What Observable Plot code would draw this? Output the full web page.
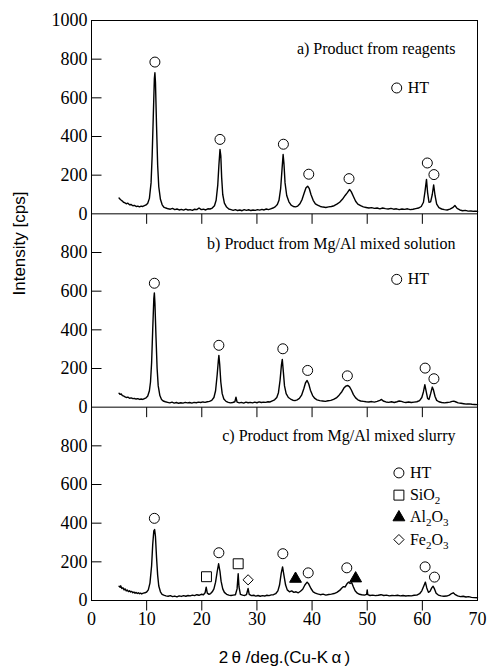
<!DOCTYPE html>
<html><head><meta charset="utf-8">
<script src="https://cdn.jsdelivr.net/npm/d3@7"></script>
<script src="https://cdn.jsdelivr.net/npm/@observablehq/plot@0.6"></script>
<style>html,body{margin:0;padding:0;background:#fff;} #chart{width:488px;height:669px;}</style>
</head><body><div id="chart"></div>
<script>
// ---------- data ----------
const panelTitles = [
  "a) Product from reagents",
  "b) Product from Mg/Al mixed solution",
  "c) Product from Mg/Al mixed slurry"
];
const xTicks = [0, 10, 20, 30, 40, 50, 60, 70];
const yTicks = [0, 200, 400, 600, 800, 1000];

// [2θ (deg), intensity (cps)]
const patternA = [[5.0,82],[5.2,75],[5.4,70],[5.6,66],[5.8,60],[6.0,58],[6.3,52],[6.6,55],[6.9,47],[7.2,48],[7.5,42],[7.8,44],[8.1,38],[8.4,40],[8.7,36],[9.0,40],[9.3,38],[9.6,42],[9.9,46],[10.2,55],[10.5,80],[10.8,160],[11.0,300],[11.2,500],[11.4,700],[11.5,730],[11.6,680],[11.8,450],[12.0,250],[12.2,140],[12.5,75],[12.8,48],[13.1,35],[13.5,30],[13.9,26],[14.3,24],[14.7,28],[15.1,22],[15.5,25],[15.9,20],[16.3,23],[16.7,19],[17.1,24],[17.5,20],[17.9,22],[18.3,18],[18.7,24],[19.1,22],[19.5,30],[19.9,22],[20.3,24],[20.7,20],[21.1,26],[21.5,25],[21.9,30],[22.3,42],[22.6,70],[22.9,150],[23.1,250],[23.3,333],[23.45,300],[23.6,190],[23.8,100],[24.1,55],[24.5,35],[24.9,25],[25.3,22],[25.7,18],[26.1,22],[26.5,17],[26.9,20],[27.3,16],[27.7,22],[28.1,18],[28.5,21],[28.9,17],[29.3,20],[29.7,18],[30.1,22],[30.5,19],[30.9,23],[31.3,20],[31.7,25],[32.1,22],[32.5,26],[32.9,30],[33.3,36],[33.7,48],[34.0,70],[34.3,130],[34.55,230],[34.75,307],[34.9,260],[35.1,160],[35.4,95],[35.8,62],[36.2,45],[36.6,38],[37.0,36],[37.4,40],[37.8,52],[38.2,75],[38.6,110],[38.9,135],[39.2,143],[39.5,130],[39.8,100],[40.2,70],[40.6,52],[41.0,45],[41.5,38],[42.0,35],[42.5,33],[43.0,36],[43.5,38],[44.0,42],[44.5,50],[45.0,60],[45.5,75],[46.0,95],[46.4,110],[46.8,126],[47.1,115],[47.5,90],[47.9,65],[48.3,50],[48.8,42],[49.3,36],[49.8,33],[50.3,30],[50.8,32],[51.3,28],[51.8,30],[52.3,26],[52.8,30],[53.3,27],[53.8,25],[54.3,28],[54.8,24],[55.3,26],[55.8,22],[56.3,25],[56.8,23],[57.3,26],[57.8,22],[58.3,24],[58.8,27],[59.3,30],[59.8,38],[60.2,60],[60.5,120],[60.75,178],[60.95,110],[61.2,60],[61.5,62],[61.8,100],[62.05,150],[62.3,95],[62.6,50],[63.0,32],[63.5,25],[64.0,22],[64.5,20],[65.0,24],[65.5,32],[65.9,43],[66.3,28],[66.8,20],[67.3,16],[67.8,18],[68.3,14],[68.8,15],[69.3,13],[69.7,14],[70.0,12]];

const patternB = [[5.0,72],[5.2,66],[5.4,68],[5.6,60],[5.8,58],[6.0,55],[6.3,50],[6.6,52],[6.9,46],[7.2,48],[7.5,44],[7.8,45],[8.1,42],[8.4,44],[8.7,40],[9.0,42],[9.3,40],[9.6,44],[9.9,48],[10.2,58],[10.5,85],[10.7,130],[10.9,230],[11.1,400],[11.3,560],[11.4,591],[11.5,540],[11.7,360],[11.9,200],[12.1,110],[12.4,60],[12.7,40],[13.0,32],[13.4,28],[13.8,25],[14.2,22],[14.6,26],[15.0,21],[15.4,24],[15.8,20],[16.2,23],[16.6,21],[17.0,25],[17.4,22],[17.8,24],[18.2,21],[18.6,25],[19.0,23],[19.4,26],[19.8,24],[20.2,27],[20.6,25],[21.0,28],[21.4,30],[21.8,35],[22.2,50],[22.5,85],[22.8,170],[23.0,240],[23.1,268],[23.25,220],[23.45,130],[23.7,70],[24.0,42],[24.4,30],[24.8,25],[25.2,22],[25.6,24],[26.0,28],[26.2,52],[26.4,26],[26.8,22],[27.2,25],[27.6,21],[28.0,26],[28.4,23],[28.8,25],[29.2,22],[29.6,26],[30.0,23],[30.4,27],[30.8,24],[31.2,26],[31.6,25],[32.0,28],[32.4,27],[32.8,33],[33.2,38],[33.6,50],[33.9,75],[34.2,140],[34.45,220],[34.6,247],[34.8,180],[35.0,110],[35.3,70],[35.7,50],[36.1,42],[36.5,36],[36.9,34],[37.3,38],[37.7,45],[38.1,62],[38.5,95],[38.8,125],[39.1,138],[39.4,120],[39.7,88],[40.1,60],[40.5,45],[40.9,38],[41.4,34],[41.9,32],[42.4,30],[42.9,33],[43.4,35],[43.9,40],[44.4,48],[44.9,62],[45.4,80],[45.8,100],[46.2,110],[46.5,112],[46.8,105],[47.1,90],[47.5,65],[47.9,48],[48.3,38],[48.8,32],[49.3,30],[49.8,28],[50.3,27],[50.8,29],[51.3,26],[51.8,30],[52.3,35],[52.6,40],[52.9,32],[53.4,27],[53.9,25],[54.4,28],[54.9,24],[55.4,28],[55.8,32],[56.2,30],[56.6,26],[57.0,24],[57.5,27],[58.0,24],[58.5,26],[59.0,28],[59.5,34],[59.9,50],[60.2,80],[60.45,116],[60.7,80],[60.95,45],[61.2,40],[61.5,70],[61.8,104],[62.0,90],[62.3,55],[62.6,35],[63.0,28],[63.5,24],[64.0,22],[64.5,24],[65.0,26],[65.4,30],[65.7,31],[66.0,28],[66.5,22],[67.0,20],[67.5,18],[68.0,16],[68.5,17],[69.0,15],[69.5,14],[70.0,13]];

const patternC = [[5.0,74],[5.2,68],[5.3,76],[5.5,62],[5.7,66],[5.9,55],[6.1,60],[6.3,50],[6.5,54],[6.7,46],[6.9,50],[7.1,44],[7.3,47],[7.5,40],[7.7,44],[7.9,38],[8.1,42],[8.3,36],[8.5,40],[8.7,35],[8.9,38],[9.1,34],[9.4,38],[9.7,40],[10.0,44],[10.3,55],[10.6,90],[10.9,180],[11.1,290],[11.3,360],[11.45,367],[11.6,330],[11.8,220],[12.0,130],[12.2,75],[12.5,45],[12.8,32],[13.1,28],[13.5,24],[13.9,22],[14.3,25],[14.7,20],[15.1,23],[15.5,19],[15.9,24],[16.3,21],[16.7,25],[17.1,22],[17.5,26],[17.9,24],[18.3,28],[18.7,25],[19.1,30],[19.5,27],[19.9,32],[20.3,30],[20.6,40],[20.8,69],[21.0,38],[21.3,32],[21.6,36],[21.9,45],[22.2,60],[22.5,95],[22.8,150],[23.05,190],[23.3,150],[23.5,100],[23.8,60],[24.1,42],[24.5,32],[24.9,28],[25.3,26],[25.7,28],[26.1,30],[26.4,60],[26.6,138],[26.75,70],[27.0,32],[27.4,28],[27.8,26],[28.1,30],[28.4,62],[28.6,32],[29.0,25],[29.4,27],[29.8,23],[30.2,26],[30.6,22],[31.0,25],[31.4,23],[31.8,27],[32.2,25],[32.6,29],[33.0,30],[33.4,35],[33.8,50],[34.1,80],[34.4,140],[34.65,174],[34.9,130],[35.2,80],[35.5,55],[35.9,45],[36.3,50],[36.7,42],[37.1,45],[37.5,40],[37.9,48],[38.3,58],[38.7,80],[39.1,95],[39.4,85],[39.8,62],[40.2,45],[40.6,38],[41.0,34],[41.5,30],[42.0,33],[42.5,28],[43.0,31],[43.5,33],[44.0,36],[44.5,42],[45.0,52],[45.4,65],[45.7,72],[46.0,70],[46.3,85],[46.6,95],[46.9,88],[47.2,92],[47.5,70],[47.8,50],[48.2,38],[48.6,32],[49.0,30],[49.5,28],[49.9,32],[50.0,55],[50.1,30],[50.5,26],[51.0,28],[51.5,25],[52.0,27],[52.5,30],[53.0,26],[53.5,28],[54.0,24],[54.5,26],[55.0,25],[55.5,27],[56.0,24],[56.5,26],[57.0,23],[57.5,25],[58.0,24],[58.5,27],[59.0,28],[59.5,35],[59.9,50],[60.3,78],[60.55,95],[60.8,65],[61.1,42],[61.4,48],[61.7,65],[61.95,74],[62.2,60],[62.5,38],[62.9,28],[63.4,24],[63.9,22],[64.4,23],[64.9,28],[65.3,36],[65.6,40],[65.9,32],[66.4,24],[66.9,20],[67.4,22],[67.9,18],[68.4,20],[68.9,16],[69.4,15],[70.0,14]];

// peak markers: [phase, 2θ, marker height (cps)]
const peaksA = [["HT",11.5,785],["HT",23.3,385],["HT",34.8,360],["HT",39.4,205],["HT",46.7,182],["HT",60.9,263],["HT",62.1,203]];
const peaksB = [["HT",11.4,641],["HT",23.1,320],["HT",34.7,302],["HT",39.2,190],["HT",46.4,162],["HT",60.5,202],["HT",62.1,147]];
const peaksC = [["HT",11.4,425],["HT",23.1,247],["HT",34.7,242],["HT",39.3,143],["HT",46.3,169],["HT",60.5,174],["HT",62.2,121],
                ["SiO2",20.85,123],["SiO2",26.6,190],["Fe2O3",28.4,107],["Al2O3",37.0,112],["Al2O3",47.9,114]];

const legendA = ["HT"];
const legendB = ["HT"];
const legendC = ["HT", "SiO2", "Al2O3", "Fe2O3"];

// ---------- layout / style ----------
const SERIF = "'Liberation Serif','Times New Roman',serif";
const SANS = "'Liberation Sans',Arial,sans-serif";
const SPAN = yTicks[yTicks.length - 1];
const nP = panelTitles.length;
const off = i => (nP - 1 - i) * SPAN;
const patterns = [patternA, patternB, patternC];
const peaks = [peaksA, peaksB, peaksC];
const legends = [legendA, legendB, legendC];

const phaseStyle = {
  HT:    {symbol: "circle",   r: 5,   fill: "none"},
  SiO2:  {symbol: "square",   r: 5.6, fill: "none"},
  Al2O3: {symbol: "triangle", r: 4.4, fill: "black"},
  Fe2O3: {symbol: "diamond2", r: 4.6, fill: "none"}
};
const titleY = [855, 845, 850];
const legendTop = [651, 661, 660];
const legendX = [55.35, 55.35, 55.75];
const legendStep = 115;

const lineData = patterns.flatMap((p, i) => p.map(([t, c]) => ({panel: i, t, y: c + off(i)})));
const peakData = peaks.flatMap((p, i) => p.map(([phase, t, c]) => ({phase, t, y: c + off(i)})));
const legendData = legends.flatMap((L, i) => L.map((ph, j) => ({ph, t: legendX[i], y: off(i) + legendTop[i] - j * legendStep})));
const titleData = panelTitles.map((s, i) => ({s, y: off(i) + titleY[i]}));

// y axis ticks over stacked panels
const yLabelMap = new Map();
for (let i = nP - 1; i >= 0; i--) {
  yTicks.forEach(v => {
    if (i > 0 && v === SPAN) return;
    yLabelMap.set(v + off(i), String(v));
  });
}
const yAxisTicks = [...yLabelMap.keys()].sort((a, b) => a - b);
const innerX = xTicks.slice(1, -1);
const xTickMarks = panelTitles.flatMap((_, i) => innerX.map(t => ({t, y: off(i)})));
const yTickMarks = panelTitles.flatMap((_, i) => yTicks.filter(v => v > 0 && v < SPAN).map(v => ({y: v + off(i)})));
const boundaries = panelTitles.slice(1).map((_, i) => off(i));

const tickRight = {draw(ctx) { ctx.moveTo(0, 0); ctx.lineTo(10, 0); }};
const tickDown = {draw(ctx) { ctx.moveTo(0, 0); ctx.lineTo(0, 10); }};

const phaseMarks = Object.keys(phaseStyle).flatMap(ph => {
  const st = phaseStyle[ph];
  return [
    Plot.dot(peakData.filter(d => d.phase === ph), {x: "t", y: "y", symbol: st.symbol, r: st.r, fill: st.fill, stroke: "black", strokeWidth: 1}),
    Plot.dot(legendData.filter(d => d.ph === ph), {x: "t", y: "y", symbol: st.symbol, r: st.r, fill: st.fill, stroke: "black", strokeWidth: 1})
  ];
});

const svg = Plot.plot({
  width: 488, height: 669,
  marginLeft: 91, marginRight: 11, marginTop: 20, marginBottom: 69,
  style: {fontFamily: SERIF, fontSize: "18px", background: "white", color: "black"},
  x: {domain: [xTicks[0], xTicks[xTicks.length - 1]], ticks: xTicks, tickSize: 0, tickPadding: 12, label: null},
  y: {domain: [0, SPAN * nP], ticks: yAxisTicks, tickFormat: d => yLabelMap.get(d), tickSize: 0, tickPadding: 4, label: null},
  marks: [
    Plot.frame({stroke: "black", strokeWidth: 1}),
    Plot.ruleY(boundaries, {stroke: "black", strokeWidth: 1}),
    Plot.dot(xTickMarks, {x: "t", y: "y", symbol: tickDown, stroke: "black", strokeWidth: 1}),
    Plot.dot(yTickMarks, {y: "y", frameAnchor: "left", symbol: tickRight, stroke: "black", strokeWidth: 1}),
    Plot.line(lineData, {x: "t", y: "y", z: "panel", stroke: "black", strokeWidth: 1.4}),
    ...phaseMarks,
    Plot.text(legendData, {x: "t", y: "y", text: "ph", dx: 11, textAnchor: "start", fontSize: 16, fontFamily: SERIF}),
    Plot.text(titleData, {x: xTicks[xTicks.length - 1], y: "y", text: "s", dx: -22, textAnchor: "end", fontSize: 16, fontFamily: SERIF}),
    Plot.text(["Intensity [cps]"], {frameAnchor: "left", dx: -72, dy: -15, rotate: -90, fontFamily: SANS, fontSize: 17}),
    Plot.text(["2\u2009θ /deg.(Cu-K\u2009α\u2009)"], {frameAnchor: "bottom", dy: 62, fontFamily: SANS, fontSize: 17})
  ]
});
document.getElementById("chart").appendChild(svg);

// chemical formula subscripts
d3.select(svg).selectAll("text").each(function () {
  const s = this.textContent;
  if (!/^(SiO2|Al2O3|Fe2O3)$/.test(s)) return;
  this.textContent = "";
  let shifted = false;
  for (const p of s.match(/\d+|\D+/g)) {
    const ts = d3.select(this).append("tspan").text(p);
    if (/\d/.test(p)) { ts.attr("font-size", 11).attr("dy", 4); shifted = true; }
    else if (shifted) { ts.attr("dy", -4); shifted = false; }
  }
});
</script></body></html>
